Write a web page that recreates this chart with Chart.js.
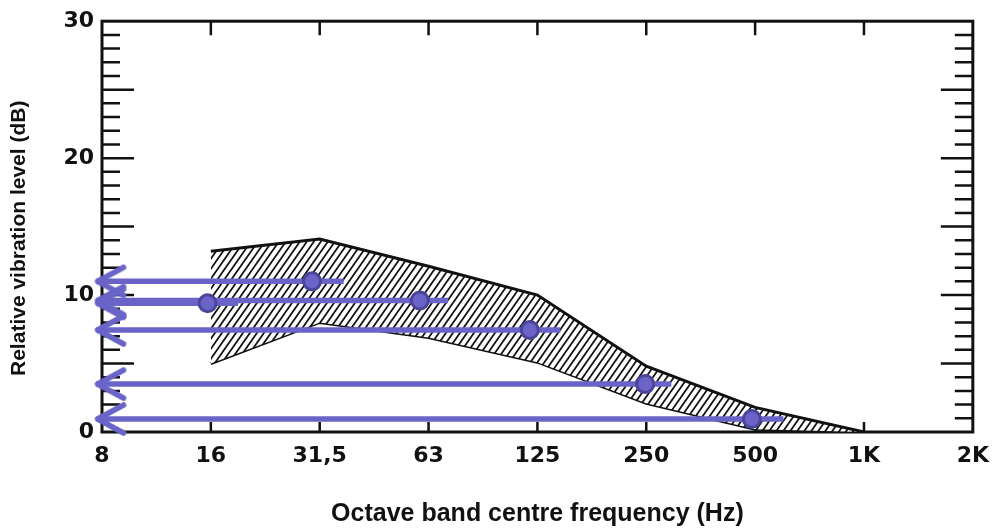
<!DOCTYPE html>
<html>
<head>
<meta charset="utf-8">
<script src="https://cdn.jsdelivr.net/npm/chart.js@4"></script>
<style>
  html, body { margin: 0; padding: 0; background: #fff; }
  #wrap { width: 1000px; height: 530px; }
</style>
</head>
<body>
<div id="wrap"><canvas id="chart" width="1000" height="530"></canvas></div>
<script>
// octave bands, x = index on the axis
const freqLabels = ['8', '16', '31,5', '63', '125', '250', '500', '1K', '2K'];

// hatched band (upper and lower limit)
const bandX = [1, 2, 3, 4, 5, 6, 7];
const bandUpper = [13.2, 14.1, 12.1, 10.0, 4.8, 1.8, 0];
const bandLower = [5.0, 8.0, 6.9, 5.1, 2.1, 0.2, 0];

// purple measured points and their arrows
const pointX = [0.97, 1.93, 2.92, 3.93, 4.99, 5.97];
const pointY = [9.4, 11.0, 9.6, 7.45, 3.5, 0.95];
const arrowEnd = [1.25, 2.22, 3.18, 4.21, 5.23, 6.26];
const arrowTip = -0.05;

const purple = '#6a64c8';
const purpleDark = '#4b4599';

const ctx = document.getElementById('chart').getContext('2d');

function hatchPattern() {
    const c = document.createElement('canvas');
    c.width = 7.5; c.height = 10;
    const g = c.getContext('2d');
    g.fillStyle = '#fff';
    g.fillRect(0, 0, 8, 10);
    g.strokeStyle = '#111';
    g.lineWidth = 1.8;
    g.beginPath();
    g.moveTo(-1.4, 12); g.lineTo(8.4, -2);
    g.moveTo(-8.4, 12); g.lineTo(1.4, -2);
    g.moveTo(5.6, 12); g.lineTo(15.4, -2);
    g.stroke();
    return ctx.createPattern(c, 'repeat');
}

function arrowHead() {
    const c = document.createElement('canvas');
    c.width = 64; c.height = 36;
    const g = c.getContext('2d');
    g.strokeStyle = purple;
    g.lineWidth = 5.5;
    g.lineCap = 'round';
    g.lineJoin = 'round';
    g.beginPath();
    g.moveTo(32 + 27, 4);
    g.lineTo(33, 18);
    g.lineTo(32 + 27, 32);
    g.stroke();
    return c;
}
const arrowImg = arrowHead();

let datasets = [];

datasets.push({
    label: 'upper',
    data: bandX.map((x, i) => ({ x: x, y: bandUpper[i] })),
    borderColor: '#111',
    borderWidth: 3,
    pointRadius: 0,
    fill: '+1',
    backgroundColor: hatchPattern(),
    order: 3
});
datasets.push({
    label: 'lower',
    data: bandX.map((x, i) => ({ x: x, y: bandLower[i] })),
    borderColor: '#111',
    borderWidth: 3,
    pointRadius: 0,
    fill: false,
    order: 3
});

pointY.forEach((y, i) => {
    datasets.push({
        label: 'arrow' + i,
        data: [{ x: arrowTip, y: y }, { x: arrowEnd[i], y: y }],
        borderColor: purple,
        borderWidth: 5.5,
        pointStyle: (c) => c.dataIndex === 0 ? arrowImg : 'circle',
        pointRadius: (c) => c.dataIndex === 0 ? 9 : 0,
        clip: false,
        fill: false,
        order: 2
    });
});

datasets.push({
    label: 'points',
    data: pointX.map((x, i) => ({ x: x, y: pointY[i] })),
    showLine: false,
    pointRadius: 8.5,
    pointBackgroundColor: purple,
    pointBorderColor: purpleDark,
    pointBorderWidth: 3,
    order: 1
});

// frame with inward tick marks on all four sides
const frameTicks = {
    id: 'frameTicks',
    beforeDatasetsDraw(chart) {
        const { ctx, chartArea: a, scales } = chart;
        const xs = scales.x, ys = scales.y;
        ctx.save();
        ctx.strokeStyle = '#111';
        ctx.lineWidth = 3;
        ctx.strokeRect(a.left, a.top, a.right - a.left, a.bottom - a.top);
        ctx.lineWidth = 2.5;
        ctx.beginPath();
        for (let v = 1; v < 30; v++) {
            const p = ys.getPixelForValue(v);
            const len = v % 5 === 0 ? 32 : 18;
            ctx.moveTo(a.left, p); ctx.lineTo(a.left + len, p);
            ctx.moveTo(a.right, p); ctx.lineTo(a.right - len, p);
        }
        for (let i = 1; i < freqLabels.length - 1; i++) {
            const p = xs.getPixelForValue(i);
            ctx.moveTo(p, a.bottom); ctx.lineTo(p, a.bottom - 10);
            ctx.moveTo(p, a.top); ctx.lineTo(p, a.top + 14);
        }
        ctx.stroke();
        ctx.restore();
    }
};

new Chart(ctx, {
    type: 'line',
    data: { datasets: datasets },
    options: {
        responsive: false,
        animation: false,
        layout: { padding: { top: 17, right: 23, left: 0, bottom: 0 } },
        plugins: { legend: { display: false }, tooltip: { enabled: false } },
        scales: {
            x: {
                type: 'linear',
                min: 0,
                max: 8,
                afterFit: (s) => { s.height = 98; },
                grid: { display: false, drawTicks: false },
                border: { display: false },
                ticks: {
                    stepSize: 1,
                    autoSkip: false,
                    maxRotation: 0,
                    padding: 11,
                    color: '#111',
                    font: { family: 'DejaVu Sans', weight: 'bold', size: 22 },
                    callback: (v) => freqLabels[v]
                },
                title: {
                    display: true,
                    text: 'Octave band centre frequency (Hz)',
                    color: '#111',
                    font: { family: 'Liberation Sans', weight: 'bold', size: 25 },
                    padding: { top: 0, bottom: 1 }
                }
            },
            y: {
                type: 'linear',
                min: 0,
                max: 30,
                afterFit: (s) => { s.width = 102; },
                grid: { display: false, drawTicks: false },
                border: { display: false },
                ticks: {
                    stepSize: 10,
                    padding: 8,
                    color: '#111',
                    font: { family: 'DejaVu Sans', weight: 'bold', size: 22 }
                },
                title: {
                    display: true,
                    text: 'Relative vibration level (dB)    ',
                    color: '#111',
                    font: { family: 'Liberation Sans', weight: 'bold', size: 21 },
                    padding: { top: 7, bottom: 0 }
                }
            }
        }
    },
    plugins: [frameTicks]
});
</script>
</body>
</html>
